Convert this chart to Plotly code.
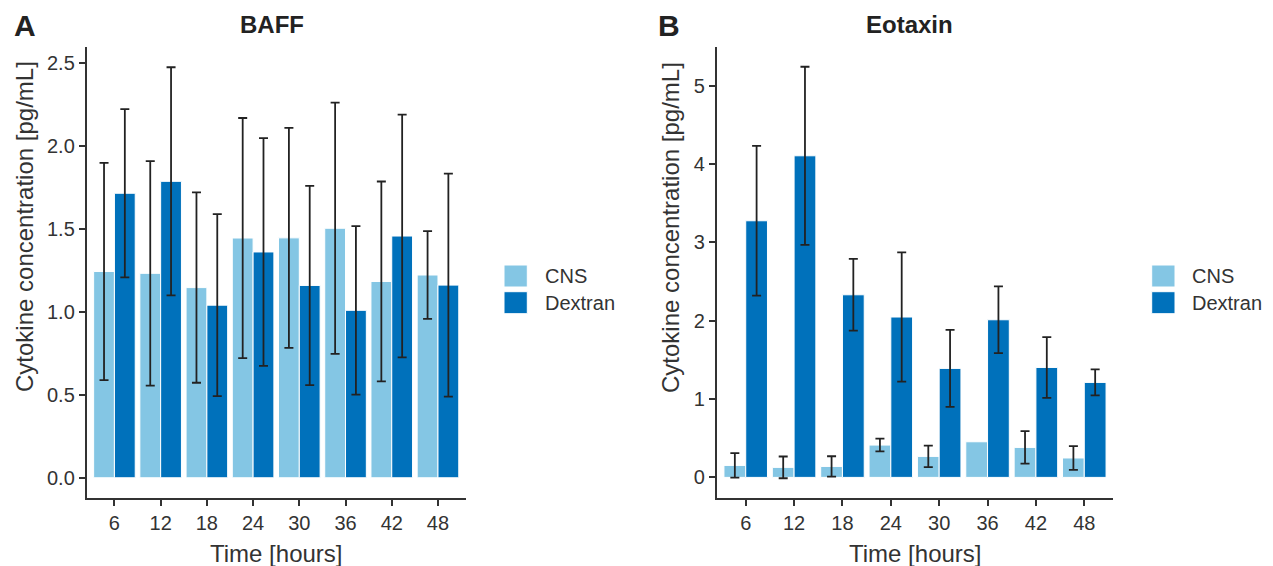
import plotly.graph_objects as go

# window is 1273x566 but the page body has an 8px margin
OFF = 8
W, H = 1273 - OFF, 566 - OFF

time_labels = ["6", "12", "18", "24", "30", "36", "42", "48"]

baff_cns_mean = [1.244, 1.233, 1.147, 1.446, 1.447, 1.505, 1.184, 1.223]
baff_cns_sd = [0.655, 0.677, 0.574, 0.724, 0.663, 0.758, 0.603, 0.265]
baff_dex_mean = [1.716, 1.788, 1.041, 1.362, 1.160, 1.010, 1.458, 1.162]
baff_dex_sd = [0.507, 0.688, 0.549, 0.687, 0.601, 0.508, 0.732, 0.673]

eot_cns_mean = [0.153, 0.128, 0.140, 0.413, 0.268, 0.455, 0.383, 0.248]
eot_cns_sd = [0.156, 0.139, 0.130, 0.081, 0.137, None, 0.207, 0.151]
eot_dex_mean = [3.277, 4.107, 2.332, 2.048, 1.392, 2.013, 1.404, 1.213]
eot_dex_sd = [0.956, 1.137, 0.458, 0.826, 0.492, 0.426, 0.388, 0.166]

series_names = ["CNS", "Dextran"]
colors = ["#84C6E4", "#0071BB"]

FONT = "Liberation Sans, Arial, sans-serif"
TXT = "#333333"
AX = "#333333"


def px(x):
    return (x - OFF) / W


def py(y):
    return 1 - (y - OFF) / H


fig = go.Figure()


def add_bars(xa, ya, means, sds):
    for name, col, m, s in zip(series_names, colors, means, sds):
        # a non-numeric entry makes plotly skip that error bar entirely
        arr = ["none" if v is None else v for v in s]
        fig.add_trace(go.Bar(
            x=time_labels, y=m, name=name, xaxis=xa, yaxis=ya,
            marker=dict(color=col, line=dict(color="white", width=1)),
            error_y=dict(type="data", array=arr, visible=True,
                         color="#222222", thickness=1.8, width=4.5),
            showlegend=False,
        ))


add_bars("x", "y", [baff_cns_mean, baff_dex_mean], [baff_cns_sd, baff_dex_sd])
add_bars("x2", "y2", [eot_cns_mean, eot_dex_mean], [eot_cns_sd, eot_dex_sd])

axis_common = dict(showline=True, linecolor=AX, linewidth=1.8, ticks="outside",
                   ticklen=6, tickwidth=1.5, tickcolor=AX, showgrid=False,
                   zeroline=False, tickfont=dict(family=FONT, size=20, color=TXT))

ydom = [py(498), py(46.7)]

fig.update_layout(
    width=W, height=H, autosize=False,
    margin=dict(l=0, r=0, t=0, b=0),
    paper_bgcolor="white", plot_bgcolor="white",
    barmode="group", bargap=0.1, bargroupgap=0,
    font=dict(family=FONT, color=TXT),
    xaxis=dict(domain=[px(86.7), px(465.7)], type="category",
               range=[-0.6, 7.6], anchor="y", **axis_common),
    yaxis=dict(domain=ydom, range=[-0.122, 2.6], anchor="x",
               tickvals=[0, 0.5, 1, 1.5, 2, 2.5], tickformat=".1f",
               **axis_common),
    xaxis2=dict(domain=[px(716.7), px(1113.3)], type="category",
                range=[-0.6, 7.6], anchor="y2", **axis_common),
    yaxis2=dict(domain=ydom, range=[-0.263, 5.5], anchor="x2",
                tickvals=[0, 1, 2, 3, 4, 5], **axis_common),
)

ann = []


def text(x, y, s, size, bold=False, angle=0, xanchor="center"):
    ann.append(dict(x=px(x), y=py(y), xref="paper", yref="paper",
                    text=f"<b>{s}</b>" if bold else s, showarrow=False,
                    xanchor=xanchor, yanchor="middle", textangle=angle,
                    font=dict(family=FONT, size=size, color="#222222" if bold else TXT)))


# panel letters and titles
text(24.5, 26, "A", 30, bold=True)
text(668.5, 26, "B", 30, bold=True)
text(271.7, 24, "BAFF", 24, bold=True)
text(909.5, 24, "Eotaxin", 24, bold=True)
# axis titles
text(276, 553, "Time [hours]", 24)
text(915, 553, "Time [hours]", 24)
text(24, 227, "Cytokine concentration [pg/mL]", 24, angle=-90)
text(671, 228, "Cytokine concentration [pg/mL]", 24, angle=-90)

# legends
shapes = []
for lx, tx in [(504, 543), (1151.7, 1190)]:
    for i, (name, col) in enumerate(zip(series_names, colors)):
        y0 = 265 + i * 26.7
        shapes.append(dict(type="rect", xref="paper", yref="paper",
                           x0=px(lx), x1=px(lx + 23.3), y0=py(y0), y1=py(y0 + 22),
                           fillcolor=col, line=dict(color="white", width=1)))
        text(tx, y0 + 11, name, 20, xanchor="left")

fig.update_layout(annotations=ann, shapes=shapes)

fig.write_html("out.html")
